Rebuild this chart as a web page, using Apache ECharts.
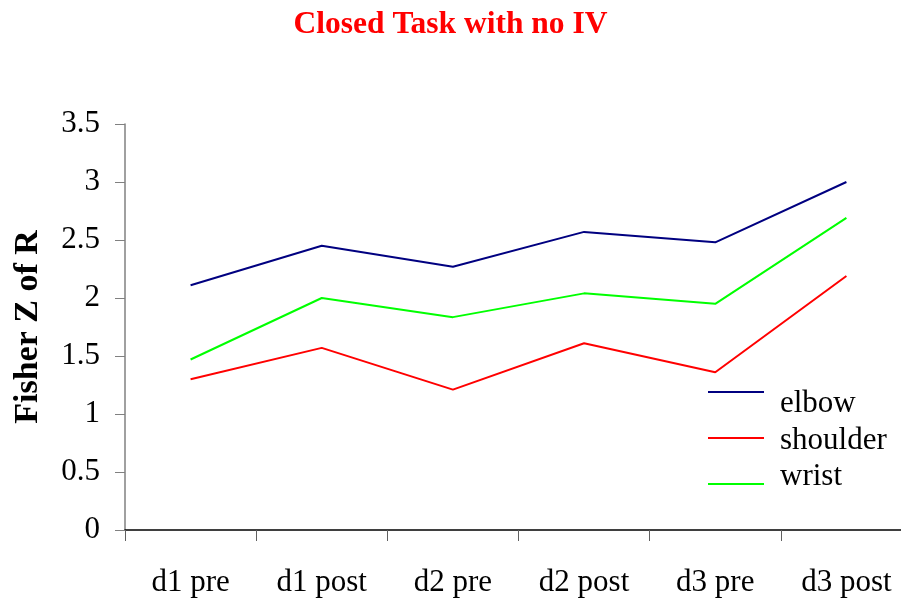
<!DOCTYPE html>
<html>
<head>
<meta charset="utf-8">
<script src="https://cdn.jsdelivr.net/npm/echarts@6/dist/echarts.min.js"></script>
<style>
  html, body { margin: 0; padding: 0; background: #fff; }
  #chart { width: 901px; height: 601px; }
</style>
</head>
<body>
<div id="chart"></div>
<script>
const categories = ['d1 pre', 'd1 post', 'd2 pre', 'd2 post', 'd3 pre', 'd3 post']
const seriesNames = ['elbow', 'shoulder', 'wrist']
const elbow = [2.11, 2.45, 2.27, 2.57, 2.48, 3.0]
const shoulder = [1.30, 1.57, 1.21, 1.61, 1.36, 2.19]
const wrist = [1.47, 2.0, 1.835, 2.04, 1.95, 2.69]
const yTicks = [0, 0.5, 1, 1.5, 2, 2.5, 3, 3.5]

const font = 'Liberation Serif, Times New Roman, serif'

function line(name, data, color) {
  return {
    name,
    type: 'line',
    data,
    symbol: 'none',
    lineStyle: { color, width: 2 },
    itemStyle: { color },
  }
}

const chart = echarts.init(document.getElementById('chart'), null, { renderer: 'canvas' })
chart.setOption({
  animation: false,
  backgroundColor: '#fff',
  title: {
    text: 'Closed Task with no IV',
    left: 'center',
    top: 4,
    textStyle: { color: '#ff0000', fontFamily: font, fontSize: 31.5, fontWeight: 'bold' },
  },
  // legend lines and legend texts sit on different rows in the original
  legend: [
    {
      orient: 'vertical',
      left: 703,
      top: 386,
      icon: 'rect',
      itemWidth: 56,
      itemHeight: 2,
      itemGap: 44,
      selectedMode: false,
      formatter: () => '',
      textStyle: { fontSize: 2 },
      data: seriesNames,
    },
    {
      orient: 'vertical',
      left: 770,
      top: 381,
      icon: 'none',
      itemWidth: 0,
      itemHeight: 2,
      itemGap: 0,
      selectedMode: false,
      textStyle: { fontFamily: font, fontSize: 31, lineHeight: 36.5, color: '#000' },
      data: seriesNames,
    },
  ],
  grid: { left: 125, top: 124, width: 787, height: 406, outerBoundsMode: 'none' },
  xAxis: {
    type: 'category',
    data: categories,
    boundaryGap: true,
    axisLine: { lineStyle: { color: '#000', width: 1.5 } },
    axisTick: { show: true, length: 11, lineStyle: { color: '#606060', width: 1 } },
    axisLabel: { color: '#000', fontFamily: font, fontSize: 31, margin: 37 },
  },
  yAxis: {
    type: 'value',
    min: yTicks[0],
    max: yTicks[yTicks.length - 1],
    interval: yTicks[1] - yTicks[0],
    name: 'Fisher Z of R',
    nameLocation: 'middle',
    nameRotate: 90,
    nameGap: 80,
    nameTextStyle: { fontFamily: font, fontSize: 34, fontWeight: 'bold', color: '#000' },
    axisLine: { show: true, lineStyle: { color: '#808080', width: 1.5 } },
    axisTick: { show: true, length: 10, lineStyle: { color: '#808080' } },
    splitLine: { show: false },
    axisLabel: { color: '#000', fontFamily: font, fontSize: 31, margin: 25 },
  },
  series: [
    line('elbow', elbow, '#000080'),
    line('shoulder', shoulder, '#ff0000'),
    line('wrist', wrist, '#00ff00'),
  ],
})
</script>
</body>
</html>
